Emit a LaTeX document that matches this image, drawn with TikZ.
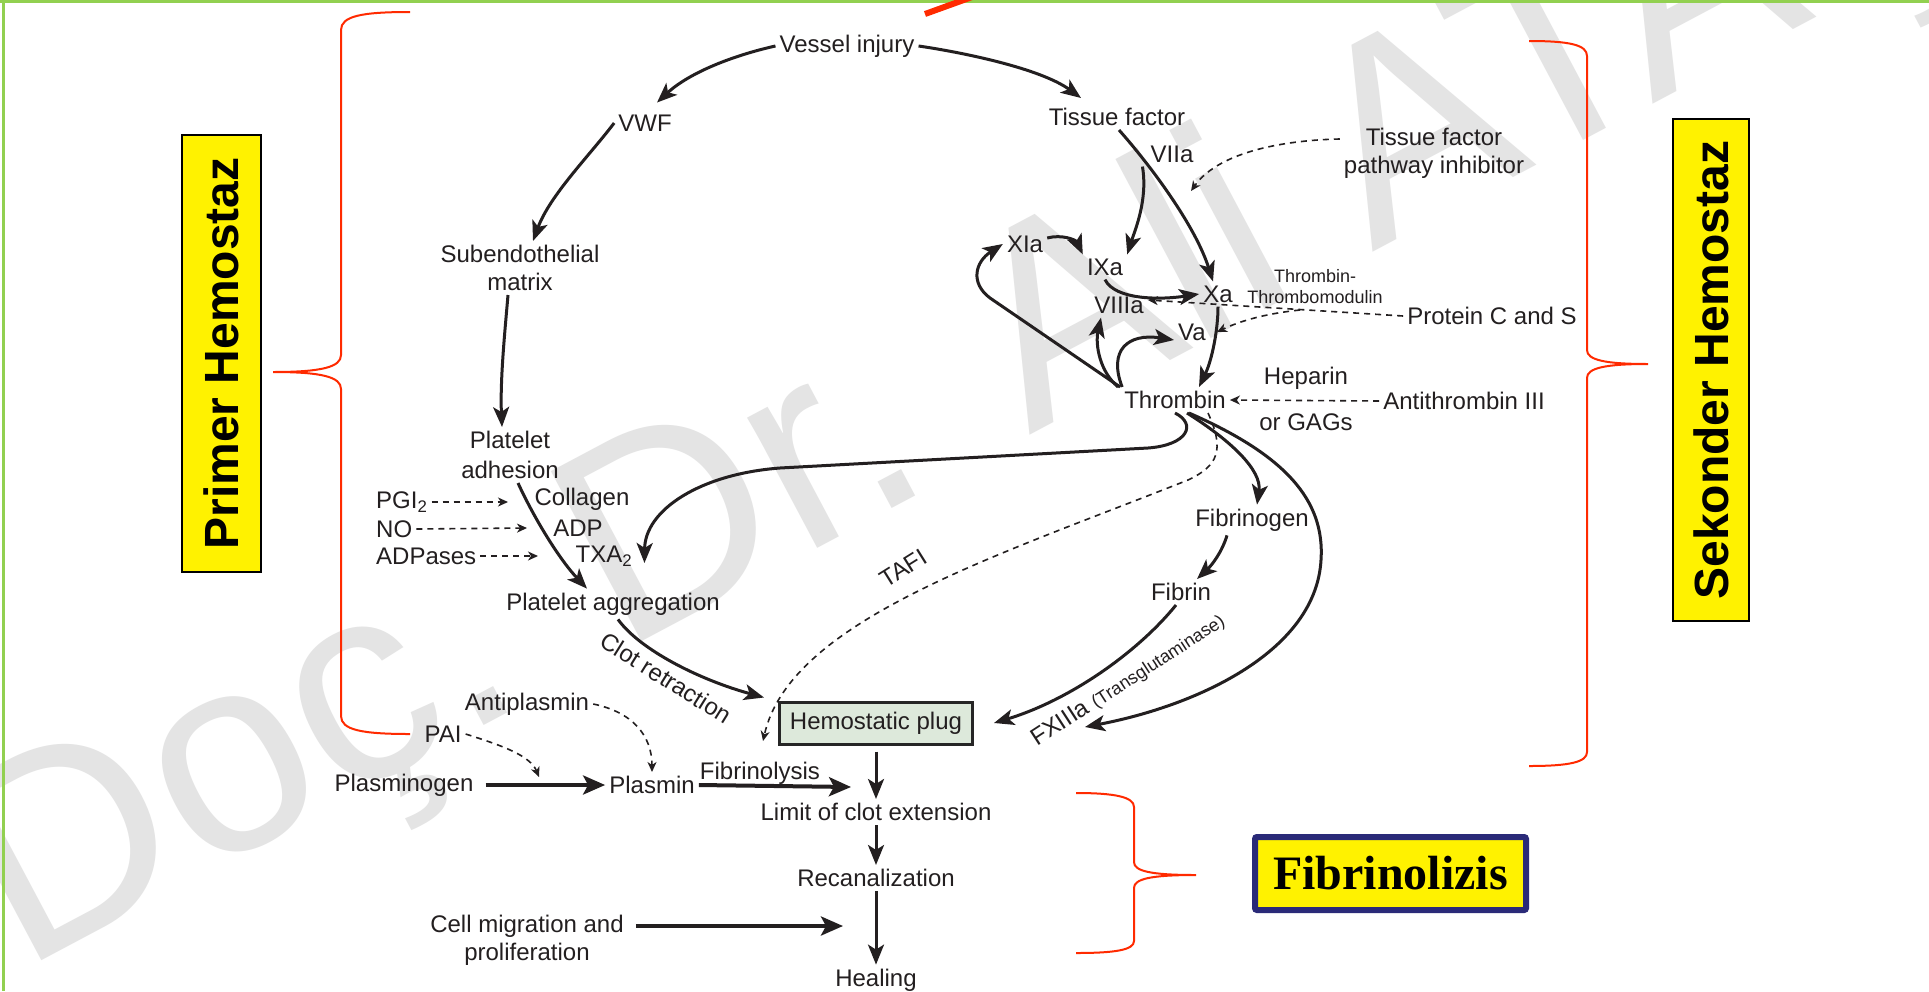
\documentclass[tikz,border=0pt]{standalone}
\usepackage{fontspec}
\setmainfont{Liberation Sans}
\newfontfamily\serifbf{Liberation Serif}
\usetikzlibrary{arrows.meta}
\definecolor{txt}{HTML}{231F20}
\definecolor{bracered}{HTML}{FF2A00}
\definecolor{wmgray}{HTML}{E4E4E4}
\definecolor{plugfill}{HTML}{DDE9DB}
\definecolor{navyb}{HTML}{2A2A78}
\definecolor{framegreen}{HTML}{92D050}
\tikzset{
  lbl/.style={font=\fontsize{24}{28}\selectfont, inner sep=4pt, align=center, text=txt},
  sml/.style={font=\fontsize{18}{21}\selectfont, inner sep=2pt, align=center, text=txt},
  arr/.style={draw=txt, line width=3pt, -{Stealth[length=20pt,width=16pt,inset=5pt]}},
  arrb/.style={draw=txt, line width=4pt, -{Stealth[length=22pt,width=19pt,inset=5pt]}},
  darr/.style={draw=txt, line width=1.6pt, dash pattern=on 6pt off 5pt, -{Stealth[length=10pt,width=9pt,inset=3pt]}},
  brace/.style={draw=bracered, line width=2pt},
  ybox/.style={draw=black, line width=2pt, fill=yellow, inner sep=0pt, font=\bfseries\fontsize{48}{48}\selectfont},
  wmtext/.style={text=wmgray, inner sep=0pt, font=\fontsize{280}{280}\selectfont}
}
\begin{document}
\begin{tikzpicture}[x=1pt,y=-1pt]
\path[use as bounding box] (0,0) rectangle (1929,991);
\clip (0,0) rectangle (1929,991);
\fill[white] (0,0) rectangle (1929,991);

% watermark
\node[wmtext, rotate=28] (wmark) at (975,383) {Doç. Dr. Ali ATAÇ};

% frame and red stroke
\draw[framegreen, line width=3pt] (0,1.5) -- (1929,1.5);
\draw[framegreen, line width=3pt] (3,0) -- (3,991);
\draw[bracered, line width=6pt] (925,14) -- (972,-3);

% brackets
\draw[brace] (410,12) .. controls (362,12) and (341,16) .. (341,30) -- (341,355)
  .. controls (341,367) and (322,372) .. (273,372) .. controls (322,372) and (341,377) .. (341,389)
  -- (341,716) .. controls (341,730) and (362,734) .. (410,734);
\draw[brace] (1529,41) .. controls (1570,41) and (1587,45) .. (1587,56) -- (1587,350)
  .. controls (1587,360) and (1605,364) .. (1648,364) .. controls (1605,364) and (1587,368) .. (1587,378)
  -- (1587,752) .. controls (1587,762) and (1570,766) .. (1529,766);
\draw[brace] (1076,793) .. controls (1115,793) and (1134,797) .. (1134,807) -- (1134,862)
  .. controls (1134,871) and (1150,875) .. (1196,875) .. controls (1150,875) and (1134,879) .. (1134,888)
  -- (1134,941) .. controls (1134,950) and (1115,953) .. (1076,953);

% title boxes
\node[ybox, rotate=90, minimum width=437pt, minimum height=79pt] (primer) at (221.5,353.5) {Primer Hemostaz};
\node[ybox, rotate=90, minimum width=502pt, minimum height=76pt] (sekonder) at (1711,370) {Sekonder Hemostaz};
\node[draw=navyb, line width=6pt, fill=yellow, rounded corners=2pt, minimum width=271pt, minimum height=73pt,
      inner sep=0pt, font=\serifbf\bfseries\fontsize{48}{48}\selectfont] (fibz) at (1390.5,873.5) {Fibrinolizis};

% text nodes
\node[lbl] (vi) at (847,46) {Vessel injury};
\node[lbl] (vwf) at (645,123) {VWF};
\node[lbl] (tf) at (1117,117) {Tissue factor};
\node[lbl] (sub) at (520,268) {Subendothelial\\matrix};
\node[lbl] (pad) at (510,455) {Platelet\\[2pt]adhesion};
\node[lbl, anchor=west] (pgi) at (372,502) {PGI\textsubscript{2}};
\node[lbl, anchor=west] (no) at (372,529) {NO};
\node[lbl, anchor=west] (adpase) at (372,556) {ADPases};
\node[lbl] (col) at (582,499) {Collagen};
\node[lbl] (adp) at (578,528) {ADP};
\node[lbl] (txa) at (604,556) {TXA\textsubscript{2}};
\node[lbl] (pag) at (613,604) {Platelet aggregation};
\node[lbl, rotate=-32] (clot) at (666,678) {Clot retraction};
\node[lbl, draw=black!85, line width=3pt, fill=plugfill, minimum width=193pt, minimum height=42pt, inner sep=2pt] (hp) at (876,723) {Hemostatic plug};
\node[lbl] (ap) at (527,704) {Antiplasmin};
\node[lbl] (pai) at (443,734) {PAI};
\node[lbl] (plg) at (404,785) {Plasminogen};
\node[lbl] (pls) at (652,785) {Plasmin};
\node[lbl] (fbl) at (760,773) {Fibrinolysis};
\node[lbl] (lim) at (876,812) {Limit of clot extension};
\node[lbl] (rec) at (876,878) {Recanalization};
\node[lbl] (cell) at (527,940) {Cell migration and\\proliferation};
\node[lbl] (heal) at (876,980) {Healing};
\node[lbl] (viia) at (1172,154) {VIIa};
\node[lbl] (tfpi) at (1434,153) {Tissue factor\\pathway inhibitor};
\node[lbl] (xia) at (1025,244) {XIa};
\node[lbl] (ixa) at (1105,267) {IXa};
\node[lbl] (xa) at (1218,294) {Xa};
\node[lbl] (viiia) at (1119,305) {VIIIa};
\node[lbl] (va) at (1192,332) {Va};
\node[sml] (tt) at (1315,287) {Thrombin-\\Thrombomodulin};
\node[lbl] (pcs) at (1492,316) {Protein C and S};
\node[lbl] (thr) at (1175,400) {Thrombin};
\node[lbl] (hep) at (1306,378) {Heparin};
\node[lbl] (gag) at (1306,422) {or GAGs};
\node[lbl] (at3) at (1464,401) {Antithrombin III};
\node[lbl] (fgen) at (1252,520) {Fibrinogen};
\node[lbl] (fib) at (1181,592) {Fibrin};
\node[lbl, rotate=32] (tafi) at (903,568) {TAFI};
\node[lbl, rotate=33, inner sep=0pt, anchor=base west] (fx) at (1037,747) {FXIIIa {\fontsize{18}{20}\selectfont(Transglutaminase)}};

% free ends
\coordinate (pgiE) at (508,502);
\coordinate (noE) at (527,528);
\coordinate (adpE) at (538,556);
\coordinate (tfpiE) at (1191,191);
\coordinate (pcsB) at (1300,310);
\coordinate (fxE) at (1085,727);
\coordinate (tafiE) at (763,741);
\coordinate (cellE) at (843,926);
\coordinate (fibE) at (851,787);
\coordinate (paiE) at (539,777);

% primary hemostasis arrows
\draw[arr] (vi.west) .. controls (735,55) and (690,72) .. ([xshift=12pt,yshift=8pt]vwf.north);
\draw[arr] (vi.east) .. controls (960,52) and (1040,68) .. ([xshift=-36pt,yshift=6pt]tf.north);
\draw[arr] (vwf.west) .. controls (590,155) and (550,195) .. ([xshift=13pt]sub.north);
\draw[arr] ([xshift=-12pt]sub.south) .. controls (505,330) and (500,380) .. ([xshift=-8pt]pad.north);
\draw[arr] ([xshift=8pt]pad.south) .. controls (535,520) and (560,560) .. ([xshift=-26pt]pag.north);
\draw[darr] (pgi.east) -- (pgiE);
\draw[darr] (no.east) -- (noE);
\draw[darr] (adpase.east) -- (adpE);
\draw[arr] (thr.south) .. controls (1197,424) and (1188,445) .. (1148,448) -- (780,468)
  .. controls (700,474) and (645,510) .. ([xshift=8pt,yshift=-7pt]txa.east);
\draw[arr] ([xshift=5pt]pag.south) .. controls (640,650) and (700,680) .. ([xshift=-14pt,yshift=3pt]hp.north west);

% coagulation cascade
\draw[arr] ([xshift=2pt]tf.south) .. controls (1150,165) and (1195,225) .. ([xshift=-5pt]xa.north);
\draw[arr] ([xshift=-4pt]viia.south west) .. controls (1148,200) and (1135,230) .. (ixa.north east);
\draw[arr] ([yshift=6pt]xia.east) .. controls (1062,234) and (1076,240) .. (ixa.north west);
\draw[arr] (ixa.south) .. controls (1115,300) and (1160,300) .. (xa.west);
\draw[arr] (xa.south) .. controls (1218,330) and (1212,360) .. ([xshift=24pt]thr.north);
\draw[arr] (thr.north west) -- (990,298) .. controls (970,283) and (975,262) .. (xia.west);
\draw[arr] ([xshift=-2pt]thr.north west) .. controls (1100,372) and (1095,345) .. ([xshift=-18pt]viiia.south);
\draw[arr] ([xshift=2pt]thr.north west) .. controls (1108,350) and (1128,333) .. ([yshift=-8pt]va.west);
\draw[darr] ([yshift=14pt]tfpi.west) .. controls (1290,140) and (1220,150) .. (tfpiE);
\draw[darr] (pcs.west) -- ([yshift=5pt]viiia.east);
\draw[darr] (pcsB) .. controls (1262,314) and (1238,322) .. ([xshift=7pt]va.east);
\draw[darr] (at3.west) -- (thr.east);
\draw[arr] ([xshift=12pt]thr.south) .. controls (1230,440) and (1262,470) .. ([xshift=5pt]fgen.north);
\draw[arr] ([xshift=14pt]thr.south) .. controls (1285,455) and (1325,500) .. (1321,560)
  .. controls (1316,650) and (1200,705) .. (fxE);
\draw[arr] ([xshift=-25pt]fgen.south) .. controls (1222,552) and (1212,565) .. ([xshift=16pt]fib.north);
\draw[arr] ([xshift=-5pt]fib.south) .. controls (1138,652) and (1070,700) .. ([xshift=20pt]hp.east);
\draw[darr] ([xshift=33pt]thr.south) .. controls (1225,450) and (1218,466) .. (1188,480)
  .. controls (1000,555) and (790,620) .. (tafiE);

% fibrinolysis and healing
\draw[arr, shorten <=6pt] (hp.south) -- (lim.north);
\draw[arr] (lim.south) -- (rec.north);
\draw[arr] (rec.south) -- (heal.north);
\draw[arrb, shorten <=8pt] ([yshift=14pt]cell.east) -- (cellE);
\draw[arrb, shorten <=8pt] (plg.east) -- (pls.west);
\draw[arrb] (pls.east) -- (fibE);
\draw[darr] (pai.east) .. controls (500,745) and (530,755) .. (paiE);
\draw[darr] (ap.east) .. controls (632,712) and (652,735) .. (pls.north);
\end{tikzpicture}
\end{document}
